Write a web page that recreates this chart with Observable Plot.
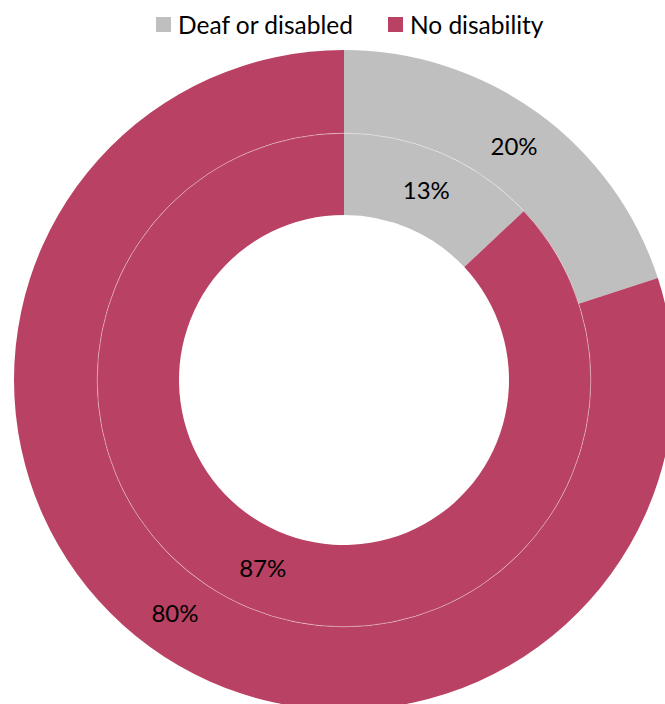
<!DOCTYPE html>
<html><head><meta charset="utf-8">
<script src="https://cdn.jsdelivr.net/npm/d3@7"></script>
<script src="https://cdn.jsdelivr.net/npm/@observablehq/plot@0.6"></script>
<style>
body{margin:0;background:#fff;width:665px;height:704px;overflow:hidden;font-family:Lato,sans-serif;position:relative;}
#legend{position:absolute;left:156px;top:0;height:48px;display:flex;align-items:center;font-size:24.5px;color:#000;white-space:nowrap;}
.item{display:flex;align-items:center;margin-right:35px;}
.sw{width:15px;height:15px;margin-right:7px;}
#chart{position:absolute;left:0;top:48px;width:665px;height:656px;overflow:hidden;}
</style></head><body>
<div id="legend"></div><div id="chart"></div>
<script>
// Data
const categories = ["Deaf or disabled", "No disability"];
const outerValues = [20, 80];   // outer ring (%)
const innerValues = [13, 87];   // inner ring (%)
const rings = ["outer", "inner"];

// Styles / geometry (not data)
const colors = ["#bfbfbf", "#b94163"];
const ringRadius = {outer: [0.748, 1], inner: [0.5, 0.748]};

const pie = d3.pie().sort(null).value(d => d.value);
const rows = [];
for (const ring of rings) {
  const vals = ring === "outer" ? outerValues : innerValues;
  const arcs = pie(categories.map((c, i) => ({category: c, value: vals[i]})));
  const [r0, r1] = ringRadius[ring];
  for (const a of arcs) {
    const mid = (a.startAngle + a.endAngle) / 2, rm = (r0 + r1) / 2;
    rows.push({ring, category: a.data.category, value: a.data.value,
      startAngle: a.startAngle, endAngle: a.endAngle, r0, r1,
      lx: rm * Math.sin(mid), ly: rm * Math.cos(mid), label: a.data.value + "%"});
  }
}

function donutMark(data) {
  return (index, scales, values, dimensions) => {
    const cx = scales.x(0), cy = scales.y(0), k = scales.x(1) - scales.x(0);
    const color = scales.color ?? d3.scaleOrdinal(categories, colors);
    const arc = d3.arc();
    const g = d3.create("svg:g").attr("transform", `translate(${cx},${cy})`);
    g.selectAll("path").data(data).join("path")
      .attr("d", d => arc({innerRadius: d.r0 * k, outerRadius: d.r1 * k, startAngle: d.startAngle, endAngle: d.endAngle}))
      .attr("fill", d => color(d.category));
    g.append("circle").attr("r", ringRadius.inner[1] * k).attr("fill", "none")
      .attr("stroke", "#fff").attr("stroke-width", 0.7).attr("stroke-opacity", 0.55);
    return g.node();
  };
}

const chart = Plot.plot({
  width: 665, height: 656, margin: 0,
  x: {domain: [-1, 1], range: [14, 674], axis: null},
  y: {domain: [-1, 1], range: [662, 2], axis: null},
  color: {domain: categories, range: colors},
  style: {fontFamily: "Lato, sans-serif", background: "#fff"},
  marks: [
    donutMark(rows),
    Plot.text(rows, {x: "lx", y: "ly", text: "label", fontSize: 24, fill: "#000"})
  ]
});
document.getElementById("chart").append(chart);

const cs = chart.scale("color");
const legend = d3.select("#legend");
cs.domain.forEach((c, i) => {
  const it = legend.append("div").attr("class", "item");
  it.append("div").attr("class", "sw").style("background", cs.range[i]);
  it.append("span").text(c);
});
</script>
</body></html>
